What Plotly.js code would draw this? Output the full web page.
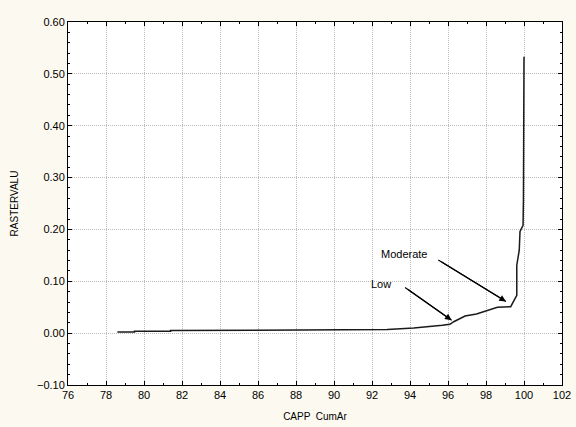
<!DOCTYPE html>
<html>
<head>
<meta charset="utf-8">
<script src="https://cdn.plot.ly/plotly-3.0.1.min.js"></script>
<style>html,body{margin:0;padding:0;background:#fcfaf0;}</style>
</head>
<body>
<div id="chart" style="width:576px;height:427px;"></div>
<script>
const cumAr = [78.6, 79.5, 79.5, 81.4, 81.4, 92.0, 92.8, 94.2, 95.0, 95.7, 96.1, 96.3, 96.9, 97.5, 98.6, 99.0, 99.3, 99.62, 99.62, 99.75, 99.79, 99.95, 99.97, 100.0];
const rasterValu = [0.002, 0.002, 0.0035, 0.0035, 0.005, 0.006, 0.007, 0.010, 0.012, 0.015, 0.017, 0.022, 0.033, 0.037, 0.050, 0.050, 0.051, 0.073, 0.131, 0.160, 0.196, 0.208, 0.257, 0.533];
const labels = ["Low", "Moderate"];
const labelPos = [[92.47, 0.095], [93.71, 0.153]];
const arrowHead = [[96.19, 0.025], [99.05, 0.061]];
const arrowTail = [[93.74, 0.088], [95.49, 0.141]];

const annotations = [];
const shapes = [];
labels.forEach((t, i) => {
  annotations.push({x: labelPos[i][0], y: labelPos[i][1], xref: 'x', yref: 'y', text: t, showarrow: false,
    font: {family: 'Liberation Sans, Arial, sans-serif', size: 11, color: '#000'}});
  annotations.push({x: arrowHead[i][0], y: arrowHead[i][1], ax: arrowTail[i][0], ay: arrowTail[i][1],
    xref: 'x', yref: 'y', axref: 'x', ayref: 'y', text: ' ', showarrow: true, standoff: 0, startstandoff: 0,
    arrowhead: 2, arrowsize: 1.1, arrowwidth: 1.2, arrowcolor: '#000'});
  shapes.push({type: 'line', xref: 'x', yref: 'y', x0: arrowTail[i][0], y0: arrowTail[i][1],
    x1: arrowHead[i][0], y1: arrowHead[i][1], line: {color: '#000', width: 1.2}});
});

const data = [{x: cumAr, y: rasterValu, type: 'scatter', mode: 'lines',
  line: {color: '#1a1a1a', width: 1.5}, hoverinfo: 'skip'}];

const axisCommon = {
  showline: true, linecolor: '#000', linewidth: 1, mirror: 'ticks',
  ticks: 'inside', ticklen: 4, tickcolor: '#000',
  showgrid: true, gridcolor: '#bbbbbb', griddash: '1px,1px', gridwidth: 1,
  zeroline: false,
  tickfont: {family: 'Liberation Sans, Arial, sans-serif', size: 11, color: '#000'}
};

const layout = {
  width: 576, height: 427,
  margin: {l: 68, r: 14, t: 22, b: 42},
  paper_bgcolor: '#fcfaf0', plot_bgcolor: '#ffffff',
  showlegend: false,
  xaxis: Object.assign({}, axisCommon, {
    range: [76, 102], dtick: 2, tick0: 76,
    minor: {ticks: 'inside', ticklen: 2, dtick: 1, tickcolor: '#000'},
    title: {text: 'CAPP  CumAr', standoff: 12, font: {family: 'Liberation Sans, Arial, sans-serif', size: 10, color: '#000'}}
  }),
  yaxis: Object.assign({}, axisCommon, {
    range: [-0.1, 0.6], dtick: 0.1, tick0: 0, tickformat: '.2f',
    minor: {ticks: 'inside', ticklen: 2, dtick: 0.02, tickcolor: '#000'},
    title: {text: 'RASTERVALU', standoff: 16, font: {family: 'Liberation Sans, Arial, sans-serif', size: 10, color: '#000'}}
  }),
  shapes: shapes,
  annotations: annotations
};

Plotly.newPlot('chart', data, layout, {displayModeBar: false, staticPlot: true});
</script>
</body>
</html>
